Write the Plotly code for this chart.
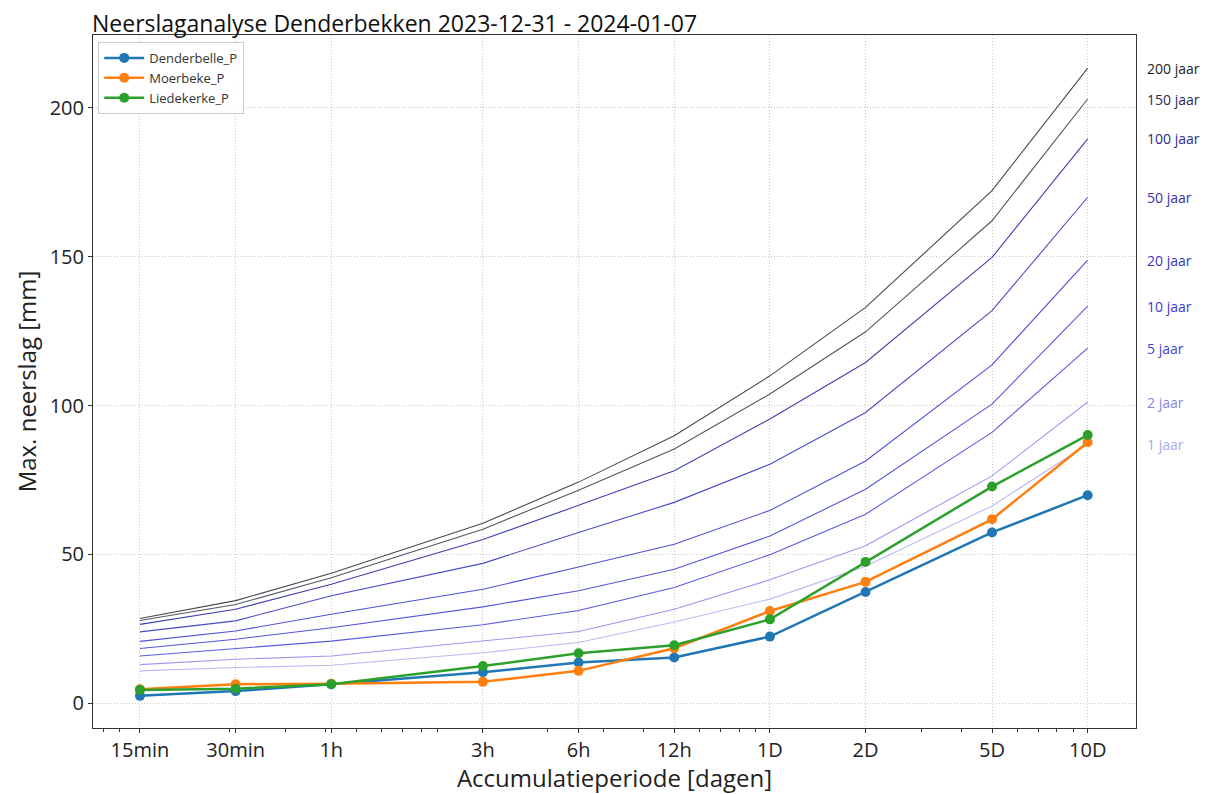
import plotly.graph_objects as go

# Accumulation periods (days) and tick labels
durations = [15/1440, 30/1440, 1/24, 3/24, 6/24, 0.5, 1, 2, 5, 10]
tick_labels = ["15min", "30min", "1h", "3h", "6h", "12h", "1D", "2D", "5D", "10D"]

# Return-period curves (mm)
return_periods = ["200 jaar", "150 jaar", "100 jaar", "50 jaar", "20 jaar", "10 jaar", "5 jaar", "2 jaar", "1 jaar"]
rp_200 = [28.5, 34.5, 43.7, 60.5, 74.3, 89.9, 110.0, 133.0, 172.2, 213.4]
rp_150 = [27.8, 33.2, 42.2, 58.5, 71.6, 85.4, 103.9, 124.8, 162.1, 203.0]
rp_100 = [26.5, 31.6, 40.0, 55.0, 66.5, 78.1, 95.5, 114.5, 149.8, 189.6]
rp_50 = [24.0, 27.7, 36.1, 47.0, 57.4, 67.5, 80.3, 97.7, 131.9, 170.0]
rp_20 = [20.8, 24.3, 29.9, 38.3, 45.8, 53.4, 64.8, 81.4, 113.7, 148.9]
rp_10 = [18.4, 21.5, 25.4, 32.4, 37.8, 45.0, 56.2, 71.9, 100.5, 133.4]
rp_5 = [15.9, 18.4, 20.9, 26.4, 31.2, 38.9, 49.9, 63.5, 91.0, 119.3]
rp_2 = [13.0, 14.8, 15.9, 20.9, 24.1, 31.6, 41.5, 52.9, 76.4, 101.2]
rp_1 = [10.9, 12.0, 12.8, 17.0, 20.4, 27.3, 35.0, 46.0, 66.3, 87.0]
rp_values = [rp_200, rp_150, rp_100, rp_50, rp_20, rp_10, rp_5, rp_2, rp_1]

# Station maxima (mm)
stations = ["Denderbelle_P", "Moerbeke_P", "Liedekerke_P"]
denderbelle = [2.5, 4.1, 6.4, 10.4, 13.7, 15.4, 22.4, 37.4, 57.4, 69.9]
moerbeke = [4.7, 6.4, 6.6, 7.2, 10.9, 18.5, 31.0, 40.8, 61.8, 87.7]
liedekerke = [4.5, 4.9, 6.4, 12.5, 16.8, 19.5, 28.2, 47.5, 72.8, 90.1]
station_values = [denderbelle, moerbeke, liedekerke]

rp_line_colors = ["#4a4a4a", "#555566", "#4040b0", "#4a4ac8", "#5050d8", "#5555dd", "#5a5ae0", "#9a9aee", "#babaf5"]
rp_label_colors = ["#222222", "#2a2a55", "#2c2c90", "#3333a8", "#3535c0", "#3a3ad0", "#4545d5", "#8585e0", "#a8a8ee"]
station_colors = ["#1f77b4", "#ff7f0e", "#2ca02c"]

# log-axis minor tick positions (as matplotlib draws them)
minor_ticks = [m * 10.0 ** e for e in (-3, -2, -1, 0) for m in range(2, 10)]

fig = go.Figure()

for name, vals, col in zip(return_periods, rp_values, rp_line_colors):
    fig.add_trace(go.Scatter(x=durations, y=vals, mode="lines", name=name,
                             line=dict(color=col, width=1.1), showlegend=False,
                             hoverinfo="skip"))

for name, vals, col in zip(stations, station_values, station_colors):
    fig.add_trace(go.Scatter(x=durations, y=vals, mode="lines+markers", name=name,
                             line=dict(color=col, width=2.5),
                             marker=dict(color=col, size=10)))

for name, vals, col in zip(return_periods, rp_values, rp_label_colors):
    fig.add_annotation(x=1.009, xref="paper", y=vals[-1], yref="y", text=name,
                       showarrow=False, xanchor="left", yanchor="middle",
                       font=dict(size=14, color=col, family="Open Sans"))

# the page body adds an 8px offset; figure size/margins compensate for it
fig.update_layout(
    width=1204, height=786,
    paper_bgcolor="white", plot_bgcolor="white",
    margin=dict(l=85, r=76, t=27, b=66),
    font=dict(family="Open Sans", color="#222222"),
    title=dict(text="Neerslaganalyse Denderbekken 2023-12-31 - 2024-01-07",
               x=84/1204, xanchor="left", y=1 - 16/786, yanchor="middle",
               font=dict(size=23, color="#111111")),
    legend=dict(x=0.005, y=0.99, xanchor="left", yanchor="top",
                bgcolor="rgba(255,255,255,0.9)", bordercolor="#cccccc", borderwidth=1,
                font=dict(size=13, color="#333333"), tracegroupgap=2,
                itemwidth=40),
)

fig.update_xaxes(type="log", range=[-2.13, 1.152], automargin=False,
                 tickvals=durations, ticktext=tick_labels,
                 ticks="outside", ticklen=4, tickcolor="#333333",
                 showline=True, linecolor="#333333", linewidth=1, mirror=True,
                 showgrid=True, gridcolor="#c8c8c8", griddash="1px,2px", gridwidth=1,
                 tickfont=dict(size=20, color="#222222"),
                 title=dict(text="Accumulatieperiode [dagen]", font=dict(size=24, color="#222222"), standoff=6),
                 zeroline=False,
                 minor=dict(tickmode="array", tickvals=minor_ticks, ticks="outside",
                            ticklen=3, tickcolor="#333333", showgrid=False))

fig.update_yaxes(range=[-8.3, 224.5], tickvals=[0, 50, 100, 150, 200], automargin=False,
                 ticks="outside", ticklen=4, tickcolor="#333333",
                 showline=True, linecolor="#333333", linewidth=1, mirror=True,
                 showgrid=True, gridcolor="#c8c8c8", griddash="1px,2px", gridwidth=1,
                 tickfont=dict(size=20, color="#222222"),
                 title=dict(text="Max. neerslag [mm]", font=dict(size=24, color="#222222"), standoff=6),
                 zeroline=False)

fig.write_html("out.html")
